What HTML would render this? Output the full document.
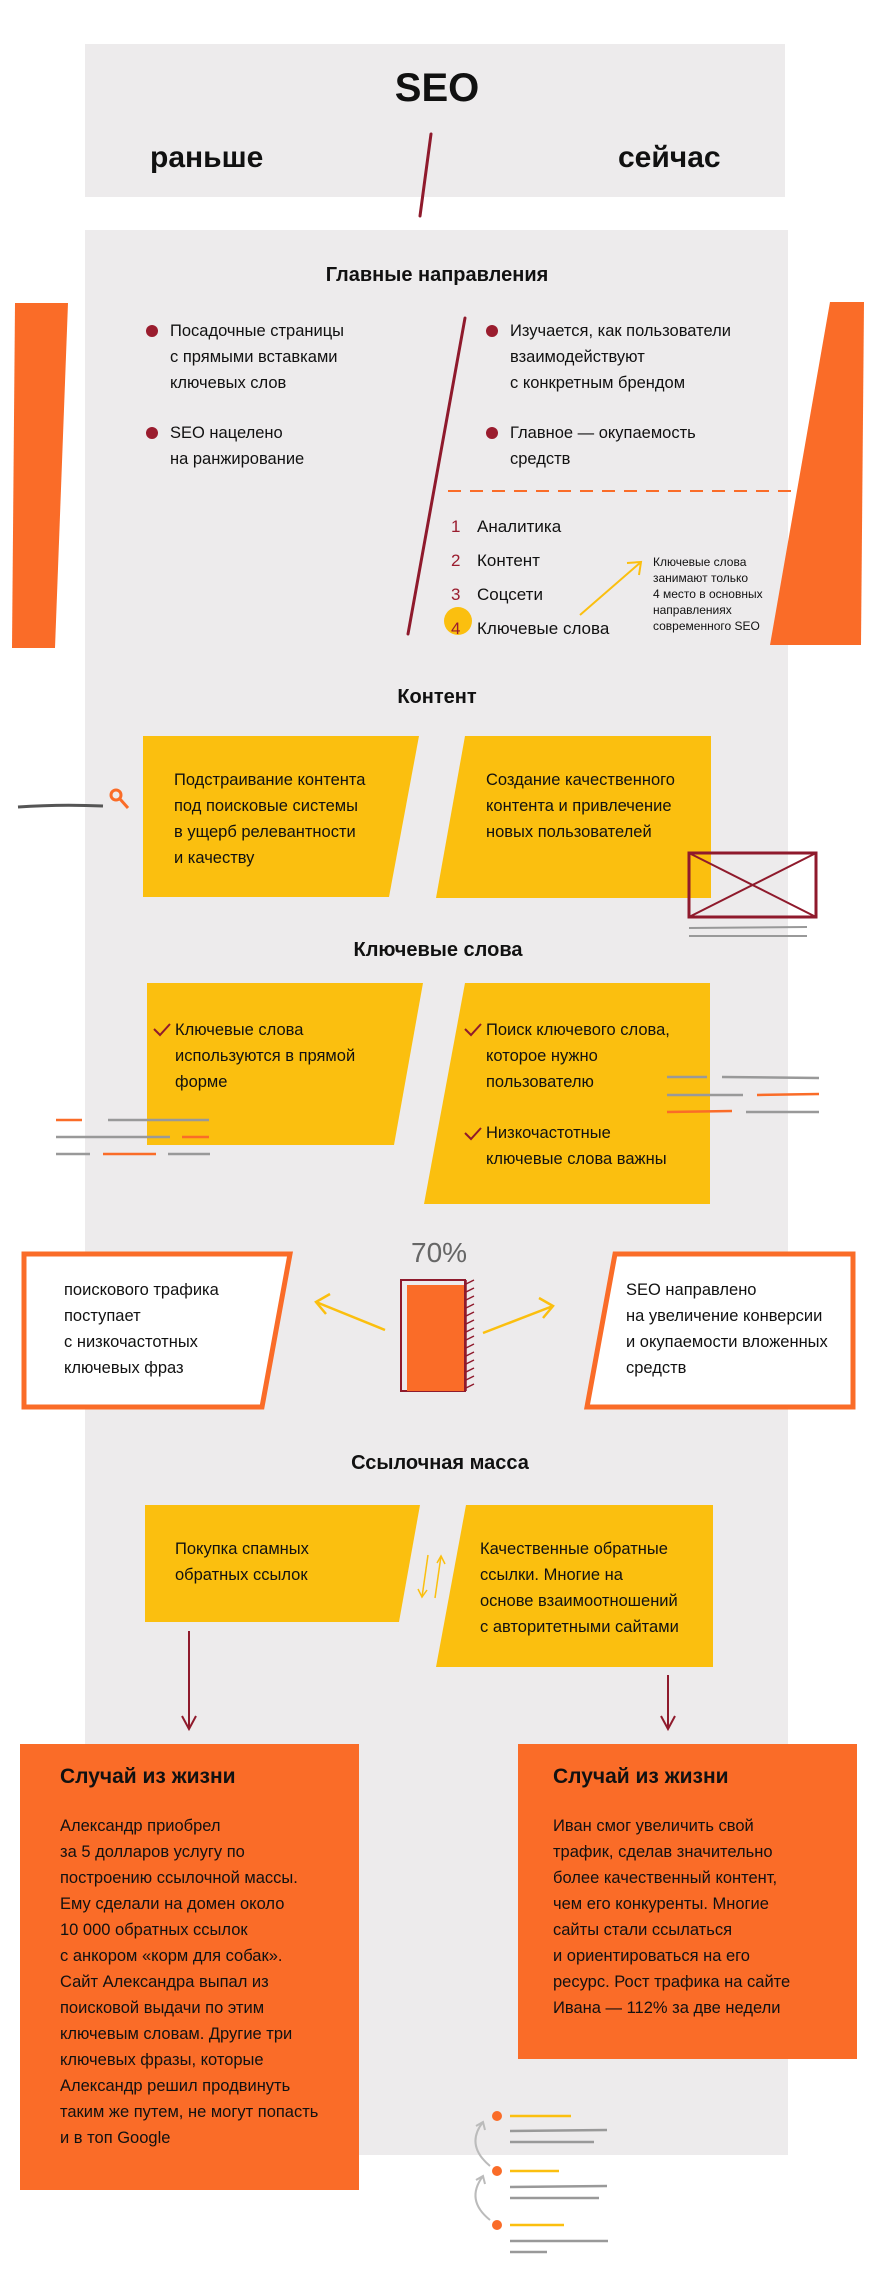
<!DOCTYPE html>
<html><head><meta charset="utf-8"><style>
*{margin:0;padding:0;box-sizing:border-box}
body{width:874px;height:2291px;position:relative;background:#fff;font-family:"Liberation Sans",sans-serif;color:#111;overflow:hidden}
.t{position:absolute;font-size:16.5px;line-height:26px;white-space:nowrap}
.h{position:absolute;font-weight:bold;font-size:20px;white-space:nowrap;transform:translateX(-50%)}
svg{position:absolute;left:0;top:0}
</style></head><body>
<svg width="874" height="2291" viewBox="0 0 874 2291">
<rect x="85" y="44" width="700" height="153" fill="#edebec"/>
<rect x="85" y="230" width="703" height="1925" fill="#edebec"/>
<line x1="431" y1="134" x2="420" y2="216" stroke="#8f1a2c" stroke-width="3" stroke-linecap="round"/>
<polygon points="15,303 68,303 55,648 12,648" fill="#fa6c28"/>
<polygon points="830,302 864,302 861,645 770,645" fill="#fa6c28"/>
<line x1="465" y1="318" x2="408" y2="634" stroke="#8f1a2c" stroke-width="3" stroke-linecap="round"/>
<circle cx="152" cy="331" r="6" fill="#9a1c2e"/><circle cx="152" cy="433" r="6" fill="#9a1c2e"/>
<circle cx="492" cy="331" r="6" fill="#9a1c2e"/><circle cx="492" cy="433" r="6" fill="#9a1c2e"/>
<line x1="448" y1="491" x2="795" y2="491" stroke="#fa6c28" stroke-width="2" stroke-dasharray="13,9"/>
<circle cx="458" cy="621" r="14" fill="#fbbf0f"/>
<g stroke="#fbbf0f" stroke-width="2" fill="none"><line x1="580" y1="615" x2="641" y2="562"/><polyline points="627,563 641,562 639,575"/></g>
<polygon points="143,736 419,736 389,897 143,897" fill="#fbbf0f"/>
<polygon points="465,736 711,736 711,898 436,898" fill="#fbbf0f"/>
<path d="M18,807 Q60,804 103,806" stroke="#555" stroke-width="3" fill="none"/>
<circle cx="116" cy="795" r="5" stroke="#fa6c28" stroke-width="3" fill="none"/><line x1="120" y1="799" x2="128" y2="808" stroke="#fa6c28" stroke-width="3"/>
<rect x="689" y="853" width="127" height="64" fill="none" stroke="#8f1a2c" stroke-width="3"/>
<line x1="689" y1="853" x2="816" y2="917" stroke="#8f1a2c" stroke-width="2"/><line x1="816" y1="853" x2="689" y2="917" stroke="#8f1a2c" stroke-width="2"/>
<line x1="689" y1="928" x2="807" y2="927" stroke="#999" stroke-width="2"/><line x1="689" y1="936" x2="807" y2="936" stroke="#999" stroke-width="2"/>
<polygon points="147,983 423,983 394,1145 147,1145" fill="#fbbf0f"/>
<polygon points="465,983 710,983 710,1204 424,1204" fill="#fbbf0f"/>
<g stroke="#8f1a2c" stroke-width="2" fill="none"><polyline points="154,1029 160,1035 170,1024"/><polyline points="465,1029 471,1035 481,1024"/><polyline points="465,1133 471,1139 481,1128"/></g>
<g stroke-width="2.5"><line x1="56" y1="1120" x2="82" y2="1120" stroke="#fa6c28"/><line x1="108" y1="1120" x2="209" y2="1120" stroke="#999"/>
<line x1="56" y1="1137" x2="170" y2="1137" stroke="#999"/><line x1="182" y1="1137" x2="209" y2="1137" stroke="#fa6c28"/>
<line x1="56" y1="1154" x2="90" y2="1154" stroke="#999"/><line x1="103" y1="1154" x2="156" y2="1154" stroke="#fa6c28"/><line x1="168" y1="1154" x2="210" y2="1154" stroke="#999"/>
<line x1="667" y1="1077" x2="707" y2="1077" stroke="#999"/><line x1="722" y1="1077" x2="819" y2="1078" stroke="#999"/>
<line x1="667" y1="1095" x2="743" y2="1095" stroke="#999"/><line x1="757" y1="1095" x2="819" y2="1094" stroke="#fa6c28"/>
<line x1="667" y1="1112" x2="732" y2="1111" stroke="#fa6c28"/><line x1="746" y1="1112" x2="819" y2="1112" stroke="#999"/></g>
<rect x="401" y="1280" width="64" height="111" fill="none" stroke="#8f1a2c" stroke-width="2"/>
<rect x="407" y="1285" width="57" height="106" fill="#fa6c28"/>
<g stroke="#8f1a2c" stroke-width="1.5"><line x1="466" y1="1280" x2="466" y2="1391"/>
<path d="M466,1284 l8,-4 M466,1292 l8,-4 M466,1300 l8,-4 M466,1308 l8,-4 M466,1316 l8,-4 M466,1324 l8,-4 M466,1332 l8,-4 M466,1340 l8,-4 M466,1348 l8,-4 M466,1356 l8,-4 M466,1364 l8,-4 M466,1372 l8,-4 M466,1380 l8,-4 M466,1388 l8,-4"/></g>
<g stroke="#fbbf0f" stroke-width="2.5" fill="none"><line x1="385" y1="1330" x2="316" y2="1302"/><polyline points="330,1294 316,1302 326,1314"/>
<line x1="483" y1="1333" x2="553" y2="1306"/><polyline points="539,1298 553,1306 543,1318"/></g>
<polygon points="24,1254 290,1254 262,1407 24,1407" fill="#fff" stroke="#fa6c28" stroke-width="5"/>
<polygon points="615,1254 853,1254 853,1407 587,1407" fill="#fff" stroke="#fa6c28" stroke-width="5"/>
<polygon points="145,1505 420,1505 399,1622 145,1622" fill="#fbbf0f"/>
<polygon points="466,1505 713,1505 713,1667 436,1667" fill="#fbbf0f"/>
<g stroke="#fbbf0f" stroke-width="1.5" fill="none"><line x1="428" y1="1555" x2="422" y2="1597"/><polyline points="418,1589 422,1597 427,1590"/>
<line x1="435" y1="1598" x2="441" y2="1556"/><polyline points="437,1563 441,1556 445,1564"/></g>
<g stroke="#8f1a2c" stroke-width="2" fill="none"><line x1="189" y1="1631" x2="189" y2="1729"/><polyline points="182,1716 189,1729 196,1716"/>
<line x1="668" y1="1675" x2="668" y2="1729"/><polyline points="661,1716 668,1729 675,1716"/></g>
<rect x="20" y="1744" width="339" height="446" fill="#fa6c28"/>
<rect x="518" y="1744" width="339" height="315" fill="#fa6c28"/>
<g stroke-width="2.5"><circle cx="497" cy="2116" r="5" fill="#fa6c28"/><circle cx="497" cy="2171" r="5" fill="#fa6c28"/><circle cx="497" cy="2225" r="5" fill="#fa6c28"/>
<line x1="510" y1="2116" x2="571" y2="2116" stroke="#fbbf0f"/><line x1="510" y1="2131" x2="607" y2="2130" stroke="#999"/><line x1="510" y1="2142" x2="594" y2="2142" stroke="#999"/>
<line x1="510" y1="2171" x2="559" y2="2171" stroke="#fbbf0f"/><line x1="510" y1="2187" x2="607" y2="2186" stroke="#999"/><line x1="510" y1="2198" x2="599" y2="2198" stroke="#999"/>
<line x1="510" y1="2225" x2="564" y2="2225" stroke="#fbbf0f"/><line x1="510" y1="2241" x2="608" y2="2241" stroke="#999"/><line x1="510" y1="2252" x2="547" y2="2252" stroke="#999"/></g>
<g stroke="#bbb" stroke-width="2" fill="none"><path d="M490,2166 Q465,2145 483,2122"/><polyline points="476,2126 483,2122 485,2130"/>
<path d="M490,2220 Q465,2200 483,2176"/><polyline points="476,2180 483,2176 485,2184"/></g>
</svg>
<div class="h" style="left:437px;top:66px;font-size:40px">SEO</div>
<div class="t" style="left:150px;top:140px;font-size:30px;font-weight:bold;line-height:36px">раньше</div>
<div class="t" style="left:618px;top:140px;font-size:30px;font-weight:bold;line-height:36px">сейчас</div>
<div class="h" style="left:437px;top:264px">Главные направления</div>
<div class="t" style="left:170px;top:318px">Посадочные страницы<br>с прямыми вставками<br>ключевых слов</div>
<div class="t" style="left:170px;top:420px">SEO нацелено<br>на ранжирование</div>
<div class="t" style="left:510px;top:318px">Изучается, как пользователи<br>взаимодействуют<br>с конкретным брендом</div>
<div class="t" style="left:510px;top:420px">Главное — окупаемость<br>средств</div>
<div class="t" style="left:451px;top:510px;line-height:34px;color:#9a1c2e;font-size:17px">1<br>2<br>3<br>4</div>
<div class="t" style="left:477px;top:510px;line-height:34px;font-size:17px">Аналитика<br>Контент<br>Соцсети<br>Ключевые слова</div>
<div class="t" style="left:653px;top:554px;font-size:12px;line-height:16px">Ключевые слова<br>занимают только<br>4 место в основных<br>направлениях<br>современного SEO</div>
<div class="h" style="left:437px;top:686px">Контент</div>
<div class="t" style="left:174px;top:767px">Подстраивание контента<br>под поисковые системы<br>в ущерб релевантности<br>и качеству</div>
<div class="t" style="left:486px;top:767px">Создание качественного<br>контента и привлечение<br>новых пользователей</div>
<div class="h" style="left:438px;top:939px">Ключевые слова</div>
<div class="t" style="left:175px;top:1017px">Ключевые слова<br>используются в прямой<br>форме</div>
<div class="t" style="left:486px;top:1017px">Поиск ключевого слова,<br>которое нужно<br>пользователю</div>
<div class="t" style="left:486px;top:1120px">Низкочастотные<br>ключевые слова важны</div>
<div class="t" style="left:411px;top:1236px;font-size:28px;line-height:34px;color:#666">70%</div>
<div class="t" style="left:64px;top:1277px">поискового трафика<br>поступает<br>с низкочастотных<br>ключевых фраз</div>
<div class="t" style="left:626px;top:1277px">SEO направлено<br>на увеличение конверсии<br>и окупаемости вложенных<br>средств</div>
<div class="h" style="left:440px;top:1452px">Ссылочная масса</div>
<div class="t" style="left:175px;top:1536px">Покупка спамных<br>обратных ссылок</div>
<div class="t" style="left:480px;top:1536px">Качественные обратные<br>ссылки. Многие на<br>основе взаимоотношений<br>с авторитетными сайтами</div>
<div class="t" style="left:60px;top:1764px;font-size:21px;font-weight:bold">Случай из жизни</div>
<div class="t" style="left:60px;top:1813px">Александр приобрел<br>за 5 долларов услугу по<br>построению ссылочной массы.<br>Ему сделали на домен около<br>10 000 обратных ссылок<br>с анкором «корм для собак».<br>Сайт Александра выпал из<br>поисковой выдачи по этим<br>ключевым словам. Другие три<br>ключевых фразы, которые<br>Александр решил продвинуть<br>таким же путем, не могут попасть<br>и в топ Google</div>
<div class="t" style="left:553px;top:1764px;font-size:21px;font-weight:bold">Случай из жизни</div>
<div class="t" style="left:553px;top:1813px">Иван смог увеличить свой<br>трафик, сделав значительно<br>более качественный контент,<br>чем его конкуренты. Многие<br>сайты стали ссылаться<br>и ориентироваться на его<br>ресурс. Рост трафика на сайте<br>Ивана — 112% за две недели</div>
</body></html>
